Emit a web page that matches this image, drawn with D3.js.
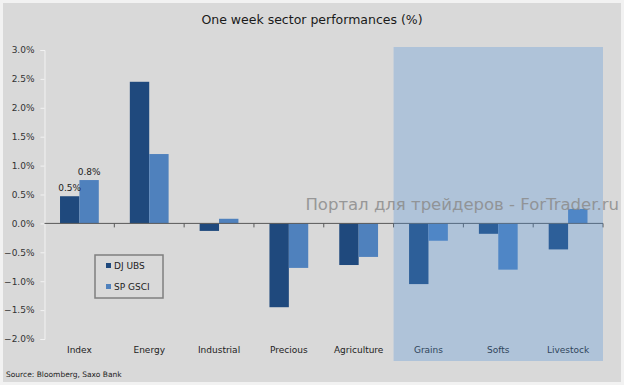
<!DOCTYPE html>
<html>
<head>
<meta charset="utf-8">
<script src="https://cdn.jsdelivr.net/npm/d3@7"></script>
<style>
  body { margin: 0; background: #fff; }
  text { font-family: "DejaVu Sans", Verdana, sans-serif; }
</style>
</head>
<body>
<svg id="chart"></svg>
<script>
const categories = ['Index', 'Energy', 'Industrial', 'Precious', 'Agriculture', 'Grains', 'Softs', 'Livestock'];
const seriesNames = ['DJ UBS', 'SP GSCI'];
const djUbs = [0.47, 2.45, -0.13, -1.45, -0.72, -1.05, -0.18, -0.45];
const spGsci = [0.75, 1.2, 0.08, -0.77, -0.58, -0.3, -0.8, 0.25];
const yTicks = [3, 2.5, 2, 1.5, 1, 0.5, 0, -0.5, -1, -1.5, -2];
const shadedCategories = ['Grains', 'Softs', 'Livestock'];
const valueLabels = [{cat: 'Index', series: 0, text: '0.5%'}, {cat: 'Index', series: 1, text: '0.8%'}];

const W = 624, H = 385;
const colors = ['#1f497d', '#4f81bd'];

const svg = d3.select('#chart').attr('width', W).attr('height', H);

// background panel
svg.append('rect').attr('x', 1.5).attr('y', 1.5).attr('width', W - 3).attr('height', H - 3)
  .attr('fill', '#d9d9d9').attr('stroke', '#f2f2f2').attr('stroke-width', 3);

const x = d3.scaleBand().domain(categories).range([44.5, 603]);
const xs = d3.scaleBand().domain(seriesNames).range([0, x.bandwidth()]).paddingOuter(0.8).paddingInner(0);
const y = d3.scaleLinear().domain([-2, 3]).range([339, 50]);

// title
svg.append('text').attr('x', W / 2).attr('y', 24).attr('text-anchor', 'middle')
  .attr('font-size', 12.5).attr('fill', '#1a1a1a').text('One week sector performances (%)');

// y axis
const yAxis = svg.append('g').attr('transform', 'translate(44.5,0)')
  .call(d3.axisLeft(y).tickValues(yTicks).tickSize(4).tickPadding(6).tickFormat(d => d3.format('.1f')(d) + '%'));
yAxis.select('.domain').attr('stroke', '#f2f2f2');
yAxis.selectAll('.tick line').attr('stroke', '#f2f2f2');
yAxis.selectAll('.tick text').attr('font-size', 9).attr('fill', '#333')
  .attr('font-family', '"DejaVu Sans", Verdana, sans-serif');

// bars
const data = [djUbs, spGsci];
const groups = svg.append('g');
seriesNames.forEach((name, si) => {
  groups.selectAll('rect.s' + si).data(categories).enter().append('rect')
    .attr('class', 's' + si)
    .attr('x', c => x(c) + xs(name))
    .attr('width', xs.bandwidth())
    .attr('y', (c, i) => y(Math.max(0, data[si][i])))
    .attr('height', (c, i) => Math.abs(y(data[si][i]) - y(0)))
    .attr('fill', colors[si]);
});

// zero axis with category ticks
const xAxis = svg.append('g').attr('transform', `translate(0,${y(0)})`);
xAxis.append('line').attr('x1', x.range()[0]).attr('x2', x.range()[1])
  .attr('stroke', '#595959').attr('stroke-width', 1);
xAxis.selectAll('line.tk').data(categories.slice(1).concat(['end'])).enter().append('line')
  .attr('class', 'tk')
  .attr('x1', (c, i) => x.range()[0] + (i + 1) * x.step())
  .attr('x2', (c, i) => x.range()[0] + (i + 1) * x.step())
  .attr('y1', 0).attr('y2', 4).attr('stroke', '#595959');

// category labels
svg.append('g').selectAll('text').data(categories).enter().append('text')
  .attr('x', c => x(c) + x.bandwidth() / 2).attr('y', 353)
  .attr('text-anchor', 'middle').attr('font-size', 9).attr('fill', '#222').text(c => c);

// shaded overlay for sub-sectors
const s0 = x(shadedCategories[0]);
svg.append('rect').attr('x', s0).attr('y', 47)
  .attr('width', x.range()[1] - s0).attr('height', 314)
  .attr('fill', 'rgb(78,145,217)').attr('opacity', 0.3);

// value labels
svg.append('g').selectAll('text').data(valueLabels).enter().append('text')
  .attr('x', d => x(d.cat) + xs(seriesNames[d.series]) + xs.bandwidth() / 2)
  .attr('y', d => y(data[d.series][categories.indexOf(d.cat)]) - 5)
  .attr('text-anchor', 'middle').attr('font-size', 9).attr('fill', '#222').text(d => d.text);

// legend
const lg = svg.append('g').attr('transform', 'translate(95,255)');
lg.append('rect').attr('width', 68).attr('height', 43).attr('fill', '#d9d9d9')
  .attr('stroke', '#7f7f7f').attr('stroke-width', 1.5);
seriesNames.forEach((name, i) => {
  lg.append('rect').attr('x', 11).attr('y', 8 + i * 21).attr('width', 5).attr('height', 5).attr('fill', colors[i]);
  lg.append('text').attr('x', 19).attr('y', 14 + i * 21).attr('font-size', 9).attr('fill', '#222').text(name);
});

// source
svg.append('text').attr('x', 6).attr('y', 377).attr('font-size', 7.5).attr('fill', '#222')
  .text('Source: Bloomberg, Saxo Bank');

// watermark
svg.append('text').attr('x', 619).attr('y', 210).attr('text-anchor', 'end')
  .attr('font-size', 16.5).attr('fill', '#8c8c8c').attr('opacity', 0.85)
  .text('Портал для трейдеров - ForTrader.ru');
</script>
</body>
</html>
